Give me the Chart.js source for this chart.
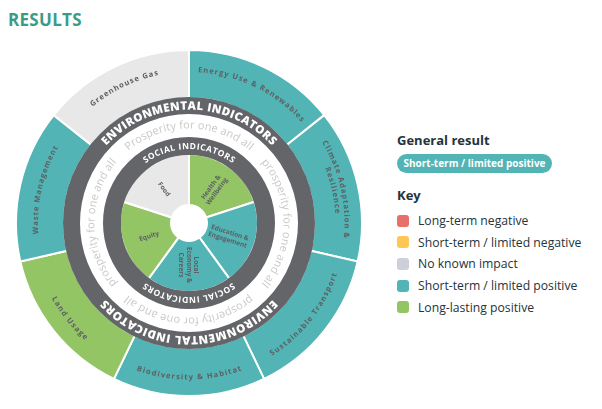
<!DOCTYPE html>
<html lang="en">
<head>
  <meta charset="UTF-8">
  <title>Results</title>
  <style>
    body {
      margin: 0;
      width: 602px;
      height: 409px;
      background: #fff;
      font-family: "Open Sans", Arial, sans-serif;
      position: relative;
      overflow: hidden;
    }

    h1 {
      position: absolute;
      left: 8px;
      top: 8px;
      margin: 0;
      font-size: 17px;
      font-weight: 700;
      letter-spacing: 0.3px;
      color: #3a9c87;
    }

    #wheel {
      position: absolute;
      left: 15px;
      top: 49px;
      width: 348px;
      height: 348px;
    }

    .panel {
      position: absolute;
      left: 397px;
      top: 130px;
      color: #24343b;
    }

    .panel h2 {
      margin: 0;
      font-size: 13px;
      font-weight: 700;
      line-height: 20px;
    }

    .pill {
      margin-top: 4px;
      width: 155px;
      height: 19px;
      line-height: 19px;
      border-radius: 10px;
      background: #52b4b4;
      color: #fff;
      font-size: 10px;
      font-weight: 700;
      text-align: center;
    }

    .key-title {
      margin-top: 12px !important;
    }

    .key {
      list-style: none;
      margin: 5px 0 0 0;
      padding: 0;
    }

    .key li {
      display: flex;
      align-items: center;
      height: 21.6px;
      font-size: 12.2px;
    }

    .key span {
      width: 12px;
      height: 12px;
      border-radius: 3px;
      margin-right: 9px;
    }
  </style>
  <script src="https://cdn.jsdelivr.net/npm/chart.js"></script>
</head>
<body>
  <h1 id="title"></h1>
  <canvas id="wheel" width="348" height="348"></canvas>
  <div class="panel">
    <h2>General result</h2>
    <div class="pill" id="general"></div>
    <h2 class="key-title">Key</h2>
    <ul class="key" id="key"></ul>
  </div>

  <script>
    // Data
    const titleText = 'RESULTS';
    const envIndicators = [['Energy Use & Renewables'], ['Climate Adaptation &', 'Resilience'], ['Sustainable Transport'],
      ['Biodiversity & Habitat'], ['Land Usage'], ['Waste Management'], ['Greenhouse Gas']];
    const envResults = ['shortPos', 'shortPos', 'shortPos', 'shortPos', 'longPos', 'shortPos', 'none'];
    const socialIndicators = [['Health &', 'Wellbeing'], ['Education &', 'Engagement'], ['Local', 'Economy &', 'Careers'],
      ['Equity'], ['Food']];
    const socialResults = ['longPos', 'shortPos', 'shortPos', 'longPos', 'none'];
    const envRingTitle = 'ENVIRONMENTAL INDICATORS';
    const socialRingTitle = 'SOCIAL INDICATORS';
    const mottoTexts = ['Prosperity for one and all', 'prosperity for one and all',
      'prosperity for one and all', 'prosperity for one and all'];
    const generalResult = 'Short-term / limited positive';
    const keyIds = ['longNeg', 'shortNeg', 'none', 'shortPos', 'longPos'];
    const keyLabels = ['Long-term negative', 'Short-term / limited negative', 'No known impact',
      'Short-term / limited positive', 'Long-lasting positive'];

    // Colours
    const keyColors = { longNeg: '#e8706a', shortNeg: '#fdc655', none: '#cdd0d9', shortPos: '#52b4b4', longPos: '#93c565' };
    const wheelColors = { longNeg: '#e8706a', shortNeg: '#fdc655', none: '#e8e8e8', shortPos: '#52b4b4', longPos: '#93c565' };
    const bandColor = '#636569';
    const labelColor = '#5c6064';
    const mottoColor = '#c9c9c9';
    const FONT = '"Open Sans", Arial, sans-serif';

    document.getElementById('title').textContent = titleText;
    document.getElementById('general').textContent = generalResult;
    const keyList = document.getElementById('key');
    keyIds.forEach((id, i) => {
      const li = document.createElement('li');
      li.innerHTML = `<span style="background:${keyColors[id]}"></span>${keyLabels[i]}`;
      keyList.appendChild(li);
    });

    const rad = d => d * Math.PI / 180;

    // text along a circle; flip = counter-clockwise with tops pointing inward
    function arcText(ctx, text, cx, cy, r, mid, flip, spacing, span, lift) {
      const chars = [...text];
      const w = chars.map(c => ctx.measureText(c).width);
      const sum = w.reduce((a, b) => a + b, 0);
      if (span) spacing = (span * r - sum) / (chars.length - 1);
      const total = sum + spacing * (chars.length - 1);
      const dir = flip ? -1 : 1;
      let a = mid - dir * total / 2 / r;
      chars.forEach((c, i) => {
        const ac = a + dir * w[i] / 2 / r;
        ctx.save();
        ctx.translate(cx + r * Math.cos(ac), cy + r * Math.sin(ac));
        ctx.rotate(ac + dir * Math.PI / 2);
        ctx.fillText(c, 0, lift);
        ctx.restore();
        a += dir * (w[i] + spacing) / r;
      });
    }

    // text along the radius, kept readable
    function radialText(ctx, lines, cx, cy, r, mid, lh, lift) {
      ctx.save();
      ctx.translate(cx + r * Math.cos(mid), cy + r * Math.sin(mid));
      ctx.rotate(Math.cos(mid) > -1e-6 ? mid : mid + Math.PI);
      ctx.textAlign = 'center';
      lines.forEach((l, i) => ctx.fillText(l, 0, (i - (lines.length - 1) / 2) * lh + lift));
      ctx.restore();
    }

    const wheelText = {
      id: 'wheelText',
      afterDatasetsDraw(chart) {
        const ctx = chart.ctx;
        const env = chart.getDatasetMeta(0).data;
        const envBand = chart.getDatasetMeta(1).data[0];
        const motto = chart.getDatasetMeta(2).data[0];
        const socBand = chart.getDatasetMeta(3).data[0];
        const soc = chart.getDatasetMeta(4).data;
        const cx = envBand.x, cy = envBand.y;
        const top = rad(-90), bottom = rad(90);
        ctx.save();
        ctx.textAlign = 'center';
        ctx.textBaseline = 'alphabetic';

        // environmental band
        let r = (envBand.innerRadius + envBand.outerRadius) / 2;
        ctx.fillStyle = '#fff';
        ctx.font = `800 11.5px ${FONT}`;
        arcText(ctx, envRingTitle, cx, cy, r, top, false, 0, rad(94), 4.1);
        arcText(ctx, envRingTitle, cx, cy, r, bottom, false, 0, rad(95), 4.1);

        // motto band
        r = (motto.innerRadius + motto.outerRadius) / 2;
        ctx.fillStyle = mottoColor;
        ctx.font = `400 11px ${FONT}`;
        mottoTexts.forEach((t, i) => arcText(ctx, t, cx, cy, r, rad(-90 + i * 90), false, 0, rad(80), 3));

        // social band
        r = (socBand.innerRadius + socBand.outerRadius) / 2;
        ctx.fillStyle = '#fff';
        ctx.font = `700 8.5px ${FONT}`;
        arcText(ctx, socialRingTitle, cx, cy, r, top, false, 0, rad(72), 3.1);
        arcText(ctx, socialRingTitle, cx, cy, r, bottom, false, 0, rad(72), 3.1);

        // environmental labels
        ctx.fillStyle = labelColor;
        ctx.font = `700 7.5px ${FONT}`;
        env.forEach((arc, i) => {
          const mid = (arc.startAngle + arc.endAngle) / 2;
          const flip = Math.sin(mid) > 0.05;
          const base = arc.innerRadius + (arc.outerRadius - arc.innerRadius) * 0.6;
          const lines = envIndicators[i];
          lines.forEach((l, j) => {
            const off = ((lines.length - 1) / 2 - j) * 9;
            arcText(ctx, l, cx, cy, base + (flip ? -off : off), mid, flip, 1.1, 0, 2.7);
          });
        });

        // social labels
        ctx.font = `700 6.5px ${FONT}`;
        soc.forEach((arc, i) => {
          const mid = (arc.startAngle + arc.endAngle) / 2;
          const r2 = arc.innerRadius + (arc.outerRadius - arc.innerRadius) * 0.47;
          radialText(ctx, socialIndicators[i], cx, cy, r2, mid, 7.5, 2.3);
        });
        ctx.restore();
      }
    };

    const segStyle = { borderColor: '#fff', borderWidth: 2, hoverBorderWidth: 2, hoverOffset: 0 };
    const band = (color, w, order) => ({
      data: [1], backgroundColor: color, borderColor: color, borderWidth: w,
      hoverBorderWidth: w, hoverOffset: 0, weight: 0, order
    });

    const ctx = document.getElementById('wheel').getContext('2d');
    new Chart(ctx, {
      type: 'doughnut',
      data: {
        labels: envIndicators.map(l => l.join(' ')),
        datasets: [
          { ...segStyle, data: envIndicators.map(() => 1), backgroundColor: envResults.map(k => wheelColors[k]), weight: 48, order: 2 },
          { ...band(bandColor, 2, 0), weight: 15 },
          { ...band('#fff', 0, 1), weight: 25 },
          { ...band(bandColor, 2, 0), weight: 16 },
          { ...segStyle, data: socialIndicators.map(() => 1), backgroundColor: socialResults.map(k => wheelColors[k]), weight: 51, order: 2 }
        ]
      },
      options: {
        responsive: false,
        animation: false,
        events: [],
        cutout: '10.4%',
        layout: { padding: 0 },
        plugins: {
          legend: { display: false },
          tooltip: { enabled: false }
        }
      },
      plugins: [wheelText]
    });
  </script>
</body>
</html>
